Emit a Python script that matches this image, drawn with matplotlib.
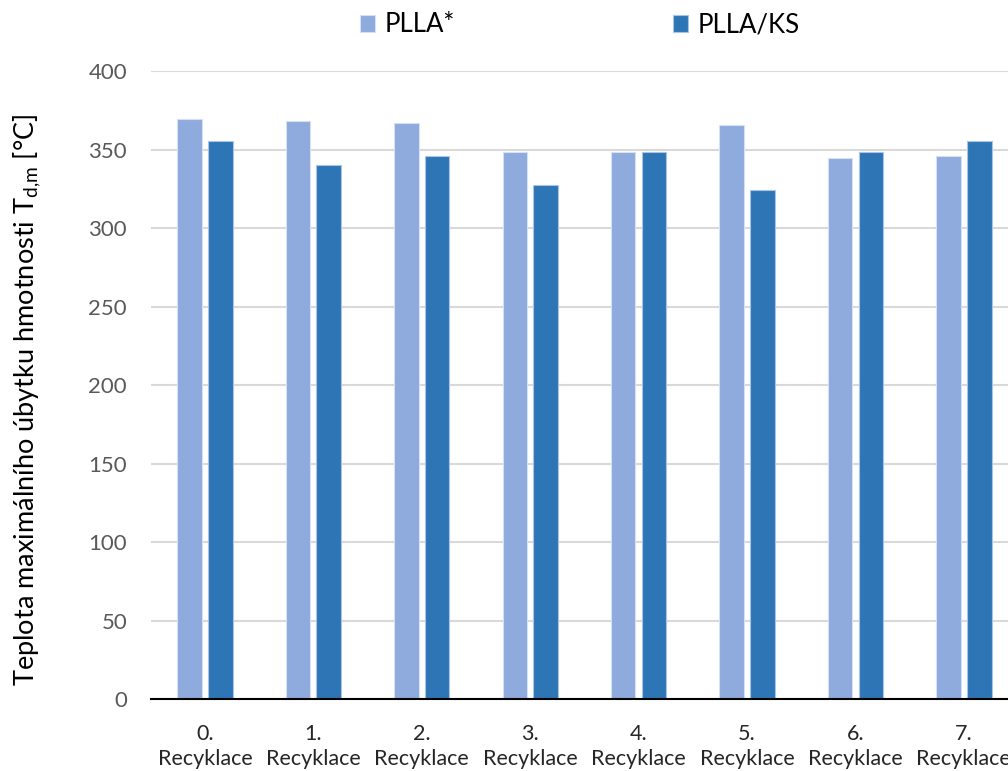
import matplotlib
matplotlib.use("Agg")
import matplotlib.pyplot as plt
import numpy as np

plt.rcParams.update({
    "font.family": ["Lato", "DejaVu Sans"],
    "mathtext.fontset": "custom", "mathtext.rm": "Lato", "mathtext.it": "Lato:italic",
})

categories = ["0.\nRecyklace", "1.\nRecyklace", "2.\nRecyklace", "3.\nRecyklace",
              "4.\nRecyklace", "5.\nRecyklace", "6.\nRecyklace", "7.\nRecyklace"]
plla = [369.6, 368.2, 367.1, 348.6, 348.2, 365.8, 344.8, 346.2]
plla_ks = [355.6, 340.3, 345.8, 327.6, 348.4, 324.0, 348.6, 355.4]
yticks = [0, 50, 100, 150, 200, 250, 300, 350, 400]

C1, C2 = "#8FAADC", "#2E75B6"

fig = plt.figure(figsize=(10.08, 7.71), dpi=100)
ax = fig.add_axes([0.1495, 0.093, 0.8605, 0.8149])

x = np.arange(len(categories))
w, off = 0.226, 0.142
ax.bar(x - off, plla, w, color=C1, edgecolor="#D6E0F3", lw=0.8, label="PLLA*", zorder=3)
ax.bar(x + off, plla_ks, w, color=C2, edgecolor="#A9C4E6", lw=0.8, label="PLLA/KS", zorder=3)

ax.set_xlim(-0.5, len(categories) - 0.5)
ax.set_ylim(0, 400)
ax.set_yticks(yticks)
ax.grid(axis="y", color="#D9D9D9", lw=1.5, zorder=0)
ax.tick_params(axis="y", length=0, labelsize=16, labelcolor="#595959", pad=17)
ax.tick_params(axis="x", length=0, labelsize=15.5, labelcolor="#262626", pad=18)
ax.set_xticks(x)
ax.set_xticklabels(categories, linespacing=1.3)
for s in ["top", "right", "left"]:
    ax.spines[s].set_visible(False)
ax.spines["bottom"].set_color("black")
ax.spines["bottom"].set_linewidth(1.5)
ax.spines["bottom"].set_zorder(4)

ax.set_ylabel(r"Teplota maximálního úbytku hmotnosti T$_{\mathrm{d{,}m}}$ [°C]",
              fontsize=19.5)
ax.yaxis.set_label_coords(-0.124, 0.476)

fig.legend(loc="center", bbox_to_anchor=(0.575, 1 - 25 / 771), ncol=2, frameon=False,
           fontsize=18.5, handlelength=0.6, handleheight=0.6, columnspacing=8.5,
           handletextpad=0.35)

fig.savefig("out.png", dpi=100)
